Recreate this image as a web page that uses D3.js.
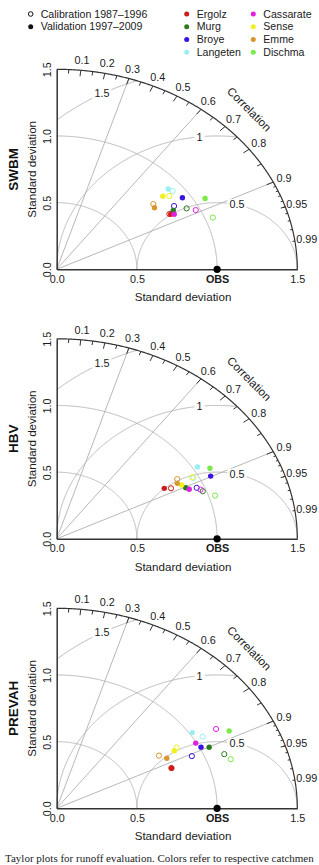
<!DOCTYPE html>
<meta charset="utf-8">
<style>
 body { margin: 0; background: #fff; }
 svg { display: block; font-family: "Liberation Sans", Arial, sans-serif; }
 .grid { fill: none; stroke: #b0b0b0; stroke-width: 0.9px; }
 .rim { fill: none; stroke: #333; stroke-width: 1.2px; }
 .tick-mark { stroke: #333; stroke-width: 1px; }
 .axis path { stroke: #333; stroke-width: 1.5px; }
 .axis text { font-size: 10.8px; fill: #1a1a1a; font-family: "Liberation Sans", Arial, sans-serif; }
 .lab { font-size: 10.8px; fill: #1a1a1a; }
 .title { font-size: 11.6px; fill: #1a1a1a; }
 .legend text { font-size: 10.6px; fill: #1a1a1a; }
</style>
<body>
<script src="https://d3js.org/d3.v7.min.js"></script>
<script>
// catchments and their colours
var catchments = ["Ergolz", "Murg", "Broye", "Langeten", "Cassarate", "Sense", "Emme", "Dischma"];
var colors = ["#cf1b1b", "#2e7a1e", "#3a12e2", "#98f0f4", "#e020e0", "#f0f01e", "#d8972e", "#7ce94a"];
var models = ["SWBM", "HBV", "PREVAH"];

// standard deviation (normalised) and correlation, one value per catchment
var swbmCalSd  = [0.816, 0.930, 0.872, 0.931, 0.974, 0.892, 0.776, 1.048];
var swbmCalCor = [0.861, 0.871, 0.839, 0.776, 0.890, 0.787, 0.776, 0.929];
var swbmValSd  = [0.822, 0.850, 0.950, 0.920, 0.841, 0.859, 0.765, 1.067];
var swbmValCor = [0.865, 0.855, 0.825, 0.756, 0.871, 0.770, 0.797, 0.867];

var hbvCalSd  = [0.807, 0.978, 0.953, 0.966, 0.970, 0.962, 0.875, 1.039];
var hbvCalCor = [0.883, 0.931, 0.916, 0.882, 0.925, 0.878, 0.859, 0.950];
var hbvValSd  = [0.770, 0.891, 1.069, 1.030, 0.906, 0.877, 0.859, 1.092];
var hbvValCor = [0.871, 0.903, 0.898, 0.852, 0.912, 0.888, 0.875, 0.875];

var prevahCalSd  = [0.776, 1.121, 0.929, 1.057, 1.158, 0.876, 0.750, 1.146];
var prevahCalCor = [0.921, 0.932, 0.907, 0.861, 0.858, 0.854, 0.850, 0.947];
var prevahValSd  = [0.777, 1.055, 1.010, 1.018, 0.995, 0.851, 0.782, 1.222];
var prevahValCor = [0.9225, 0.901, 0.891, 0.830, 0.871, 0.8615, 0.8775, 0.880];

var calSd  = [swbmCalSd, hbvCalSd, prevahCalSd];
var calCor = [swbmCalCor, hbvCalCor, prevahCalCor];
var valSd  = [swbmValSd, hbvValSd, prevahValSd];
var valCor = [swbmValCor, hbvValCor, prevahValCor];

// diagram furniture
var maxSd = 1.5, refSd = 1;
var corrLines = [0.3, 0.6, 0.9];
var sdArcs = [0.5, 1.0];
var rmsArcs = [0.5, 1, 1.5];
var rmsLabelAngle = [1.32, 1.68, 2.07];
var corrLabels = [0.1, 0.2, 0.3, 0.4, 0.5, 0.6, 0.7, 0.8, 0.9, 0.95, 0.99];
var bigTicks = d3.range(1, 10).map(function (i) { return i / 10; });
var medTicks = d3.range(0, 10).map(function (i) { return 0.05 + i / 10; });
var smlTicks = d3.range(91, 100).map(function (i) { return i / 100; });
var xTicks = [0, 0.5, 1, 1.5];
var yTicks = [0, 0.5, 1, 1.5];

var width = 319, height = 865;
var svg = d3.select("body").append("svg")
    .attr("width", width)
    .attr("height", height);

var x = d3.scaleLinear().domain([0, maxSd]).range([56.7, 297.3]);
var originY = [269.3, 538.8, 808.3];

// legend
var leg = svg.append("g").attr("class", "legend");
leg.append("circle").attr("cx", 30.7).attr("cy", 14).attr("r", 2.3)
   .attr("fill", "none").attr("stroke", "#111").attr("stroke-width", 1);
leg.append("circle").attr("cx", 30.7).attr("cy", 26.7).attr("r", 2.5).attr("fill", "#111");
leg.append("text").attr("x", 40.7).attr("y", 14).attr("dy", "0.35em").text("Calibration 1987\u20131996");
leg.append("text").attr("x", 40.7).attr("y", 26.7).attr("dy", "0.35em").text("Validation 1997\u20132009");

catchments.forEach(function (c, i) {
  var cx = i < 4 ? 186.7 : 253.3, cy = 14 + (i % 4) * 12.75;
  leg.append("circle").attr("cx", cx).attr("cy", cy).attr("r", 2.5).attr("fill", colors[i]);
  leg.append("text").attr("x", cx + 10).attr("y", cy).attr("dy", "0.35em").text(c);
});

models.forEach(function (m, k) {
  var oy = originY[k];
  var y = d3.scaleLinear().domain([0, maxSd]).range([oy, oy - 200]);
  var g = svg.append("g");
  var line = d3.line();

  function arc(cx, r, a0, a1) {
    var pts = d3.range(a0, a1, 0.004).concat([a1]).map(function (a) {
      return [x(cx + r * Math.cos(a)), y(r * Math.sin(a))];
    });
    return line(pts);
  }

  // radial correlation lines
  corrLines.forEach(function (c) {
    var a = Math.acos(c);
    g.append("line").attr("class", "grid")
     .attr("x1", x(0)).attr("y1", y(0))
     .attr("x2", x(maxSd * Math.cos(a))).attr("y2", y(maxSd * Math.sin(a)));
  });

  // standard deviation arcs
  sdArcs.forEach(function (r) {
    g.append("path").attr("class", "grid").attr("d", arc(0, r, 0, Math.PI / 2));
  });

  // centred RMS arcs around OBS
  var rmsLab = [];
  rmsArcs.forEach(function (gm, i) {
    var s = (maxSd * maxSd - refSd * refSd - gm * gm) / (2 * refSd * gm);
    var a0 = Math.acos(Math.max(-1, Math.min(1, s)));
    var a1 = Math.acos(Math.max(-1, -refSd / gm));
    g.append("path").attr("class", "grid").attr("d", arc(refSd, gm, a0, a1));
    var la = rmsLabelAngle[i];
    rmsLab.push({ v: gm, px: x(refSd + gm * Math.cos(la)), py: y(gm * Math.sin(la)) });
  });

  // outer rim
  g.append("path").attr("class", "rim").attr("d", arc(0, maxSd, 0, Math.PI / 2));

  // ticks on the rim
  [[bigTicks, 0.97], [medTicks, 0.98], [smlTicks, 0.99]].forEach(function (t) {
    t[0].forEach(function (c) {
      var a = Math.acos(c);
      g.append("line").attr("class", "tick-mark")
       .attr("x1", x(maxSd * Math.cos(a))).attr("y1", y(maxSd * Math.sin(a)))
       .attr("x2", x(t[1] * maxSd * Math.cos(a))).attr("y2", y(t[1] * maxSd * Math.sin(a)));
    });
  });

  // axes
  var ax = g.append("g").attr("class", "axis")
      .attr("transform", "translate(0," + oy + ")")
      .call(d3.axisBottom(x).tickValues(xTicks).tickSize(0).tickPadding(6)
        .tickFormat(function (d) { return d === refSd ? "OBS" : d3.format(".1f")(d); }));
  ax.selectAll("text").filter(function (d) { return d === refSd; })
    .style("font-weight", "bold");

  var ay = g.append("g").attr("class", "axis")
      .attr("transform", "translate(" + x(0) + ",0)")
      .call(d3.axisLeft(y).tickValues(yTicks).tickSize(0).tickFormat(d3.format(".1f")));
  ay.selectAll("text")
    .attr("transform", "rotate(-90)")
    .attr("x", 0).attr("y", -6).attr("dy", null)
    .attr("text-anchor", "middle");

  // correlation labels
  corrLabels.forEach(function (c) {
    var a = Math.acos(c);
    g.append("text").attr("class", "lab")
     .attr("x", x(1.05 * maxSd * Math.cos(a))).attr("y", y(1.05 * maxSd * Math.sin(a)))
     .attr("dy", "0.35em").attr("text-anchor", "middle").text(c);
  });
  g.append("text").attr("class", "title")
   .attr("transform", "translate(" + x(0.8 * maxSd) + "," + y(0.8 * maxSd) + ") rotate(45)")
   .attr("dy", "0.35em").attr("text-anchor", "middle").text("Correlation");

  // RMS labels, boxed
  rmsLab.forEach(function (l) {
    var t = g.append("text").attr("class", "lab")
      .attr("x", l.px).attr("y", l.py).attr("dy", "0.35em")
      .attr("text-anchor", "middle").text(l.v);
    var w = t.node().getComputedTextLength() + 4;
    g.insert("rect", function () { return t.node(); })
     .attr("x", l.px - w / 2).attr("y", l.py - 5.5)
     .attr("width", w).attr("height", 11).attr("fill", "#fff");
  });

  // axis titles
  g.append("text").attr("class", "title")
   .attr("x", 183).attr("y", oy + 28).attr("dy", "0.35em")
   .attr("text-anchor", "middle").text("Standard deviation");
  g.append("text").attr("class", "title")
   .attr("transform", "translate(31.7," + (oy - 100) + ") rotate(-90)")
   .attr("dy", "0.35em").attr("text-anchor", "middle").text("Standard deviation");
  g.append("text")
   .attr("transform", "translate(13.3," + (oy - 100) + ") rotate(-90)")
   .attr("dy", "0.35em").attr("text-anchor", "middle")
   .style("font-size", "13.5px").style("font-weight", "bold").attr("fill", "#111")
   .text(m);

  // points: calibration (open) then validation (filled)
  function px(sd, r) { return x(sd * r); }
  function py(sd, r) { return y(sd * Math.sqrt(1 - r * r)); }

  g.selectAll(".cal").data(catchments).enter().append("circle")
   .attr("class", "cal")
   .attr("cx", function (d, i) { return px(calSd[k][i], calCor[k][i]); })
   .attr("cy", function (d, i) { return py(calSd[k][i], calCor[k][i]); })
   .attr("r", 2.6).attr("fill", "none").attr("stroke-width", 1)
   .attr("stroke", function (d, i) { return colors[i]; });

  g.selectAll(".val").data(catchments).enter().append("circle")
   .attr("class", "val")
   .attr("cx", function (d, i) { return px(valSd[k][i], valCor[k][i]); })
   .attr("cy", function (d, i) { return py(valSd[k][i], valCor[k][i]); })
   .attr("r", 2.7)
   .attr("fill", function (d, i) { return colors[i]; });

  // observed reference
  g.append("circle").attr("cx", x(refSd)).attr("cy", y(0)).attr("r", 3.6).attr("fill", "#000");
});

// caption, as far as the source image shows it
svg.append("text")
   .attr("x", 5).attr("y", 861.5)
   .style("font-family", "'Liberation Serif', 'DejaVu Serif', serif")
   .style("font-size", "11px").attr("fill", "#222")
   .text("Taylor plots for runoff evaluation. Colors refer to respective catchmen");
</script>
</body>
